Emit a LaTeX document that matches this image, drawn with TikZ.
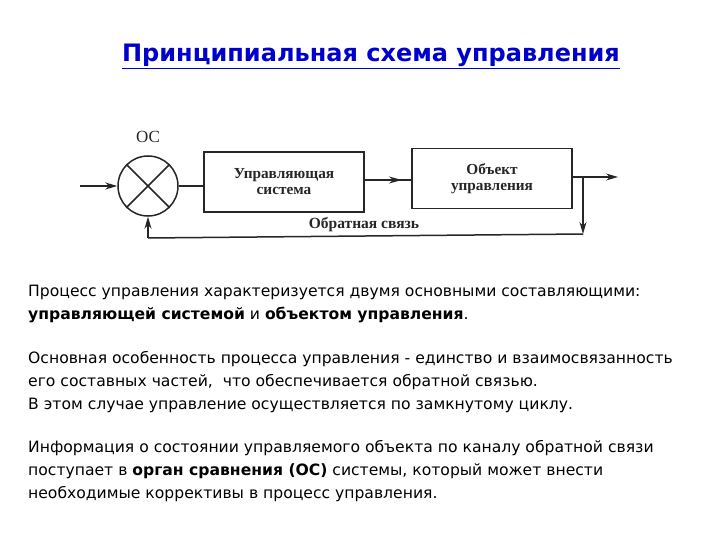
\documentclass[tikz,border=0pt]{standalone}
\usepackage{fontspec}
\setmainfont{DejaVu Sans}
\newfontfamily\bodyfont{DejaVu Sans}
\newfontfamily\titlefont{DejaVu Sans}
\newfontfamily\schemefont{Liberation Serif}
\usetikzlibrary{arrows.meta,decorations.markings}
\definecolor{titleblue}{RGB}{0,0,204}
\tikzset{
  conn/.style={line width=1.5pt, draw=black!85},
  tip/.style={-{Stealth[length=12pt,width=7pt]}},
  blk/.style={draw=black!85, line width=1.5pt, minimum width=160pt, minimum height=60pt, align=center, font=\schemefont\bfseries\fontsize{15.3}{16}\selectfont, text=black!85},
  midtip/.style={postaction={decorate}, decoration={markings, mark=at position #1 with {\arrow{Stealth[length=13pt,width=7pt]}}}},
  bodyline/.style={anchor=base west, inner sep=0pt, font=\bodyfont\fontsize{15.6}{18}\selectfont, text=black}
}
\begin{document}
\begin{tikzpicture}[x=1pt,y=-1pt]
\useasboundingbox (0,0) rectangle (720,540);
% title
\node[anchor=base, inner sep=0pt, text=titleblue, font=\titlefont\bfseries\fontsize{24}{27}\selectfont] (title) at (371,62) {\underline{Принципиальная схема управления}};
% scheme
\node[circle, draw=black!85, line width=1.5pt, minimum size=60pt, inner sep=0pt] (oc) at (148,186) {};
\draw[conn] (oc.north west) -- (oc.south east);
\draw[conn] (oc.north east) -- (oc.south west);
\node[font=\schemefont\fontsize{17}{18}\selectfont, text=black!85] (oclabel) at (148,137) {ОС};
\node[blk] (us) at (284,182) {Управляющая\\система};
\node[blk] (ob) at (492,178.5) {Объект\\управления};
\coordinate (in) at (80,186);
\coordinate (out) at (618,177);
\coordinate (br) at (583,177);
\coordinate (brd) at (583,234);
\coordinate (fbl) at (148,238);
\draw[conn, tip] (in) -- (oc.west);
\draw[conn] (oc.east) -- (us.west |- oc.east);
\draw[conn, midtip=0.8] (us.east |- 0,180) -- (ob.west |- 0,180);
\draw[conn, tip] (ob.east |- out) -- (out);
\draw[conn, tip] (br) -- (brd);
\draw[conn] (brd) -- (fbl);
\draw[conn, tip] (fbl) -- (oc.south);
\node[font=\schemefont\bfseries\fontsize{15.5}{16}\selectfont, text=black!85] (fblabel) at (364,225) {Обратная связь};
% text
\node[bodyline] (l1) at (28,296) {Процесс управления характеризуется двумя основными составляющими:};
\node[bodyline] (l2) at (28,319) {\textbf{управляющей системой} и \textbf{объектом управления}.};
\node[bodyline] (l3) at (28,363) {Основная особенность процесса управления - единство и взаимосвязанность};
\node[bodyline] (l4) at (28,386) {его составных частей,\ \ что обеспечивается обратной связью.};
\node[bodyline] (l5) at (28,409) {В этом случае управление осуществляется по замкнутому циклу.};
\node[bodyline] (l6) at (28,452) {Информация о состоянии управляемого объекта по каналу обратной связи};
\node[bodyline] (l7) at (28,475) {поступает в \textbf{орган сравнения (ОС)} системы, который может внести};
\node[bodyline] (l8) at (28,498) {необходимые коррективы в процесс управления.};
\end{tikzpicture}
\end{document}
